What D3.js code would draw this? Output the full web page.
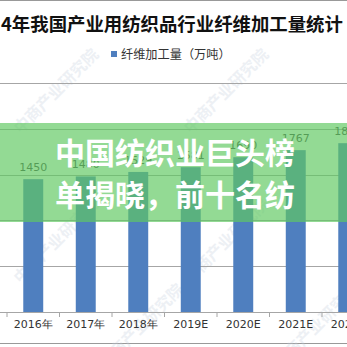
<!DOCTYPE html>
<html>
<head>
<meta charset="utf-8">
<script src="https://cdn.jsdelivr.net/npm/d3@7"></script>
<style>
  body { margin: 0; background: #fff; }
  svg { display: block; }
</style>
</head>
<body>
<div id="chart"></div>
<script>
// data
var years = ["2016年", "2017年", "2018年", "2019E", "2020E", "2021E", "2022E"];
var fiber = [1450, 1480, 1529, 1581, 1690, 1767, 1843];
var yTicks = [0, 500, 1000, 1500, 2000, 2500];

var W = 347, H = 347;

var svg = d3.select("#chart").append("svg")
    .attr("width", W)
    .attr("height", H);

// frame lines
svg.append("line").attr("x1", 0).attr("x2", W).attr("y1", 0.5).attr("y2", 0.5)
    .attr("stroke", "#999");
svg.append("line").attr("x1", 0).attr("x2", W).attr("y1", 343.5).attr("y2", 343.5)
    .attr("stroke", "#999");

// watermarks, faint, under everything
var marks = [[60, 95], [230, 95], [60, 245], [230, 245], [145, 330], [320, 330]];
svg.append("g").selectAll("text")
    .data(marks)
    .enter().append("text")
      .attr("transform", function(d) { return "translate(" + d[0] + "," + d[1] + ") rotate(-45)"; })
      .attr("text-anchor", "middle")
      .attr("font-family", "Noto Sans CJK SC")
      .attr("font-weight", "bold")
      .attr("font-size", 16)
      .attr("fill", "#c5d0de")
      .attr("opacity", 0.3)
      .text("中商产业研究院");

// title (cut off at the left like the picture)
svg.append("text")
    .attr("x", 1)
    .attr("y", 31)
    .attr("font-family", "Noto Sans CJK SC")
    .attr("font-weight", "bold")
    .attr("font-size", 18.4)
    .attr("fill", "#111")
    .text("4年我国产业用纺织品行业纤维加工量统计");

// legend
svg.append("rect").attr("x", 111).attr("y", 51).attr("width", 6).attr("height", 6)
    .attr("fill", "#4f7fbf");
svg.append("text")
    .attr("x", 121)
    .attr("y", 59)
    .attr("font-family", "Noto Sans CJK SC")
    .attr("font-size", 12.2)
    .attr("fill", "#333")
    .text("纤维加工量（万吨）");

var x = d3.scaleBand()
    .domain(years)
    .range([7, 7 + 52.5 * years.length])
    .paddingInner(0.62)
    .paddingOuter(0.31);

var y = d3.scaleLinear()
    .domain([0, 2500])
    .range([312, 83]);

// gridlines
svg.append("g").selectAll("line")
    .data(yTicks.slice(1))
    .enter().append("line")
      .attr("x1", 0).attr("x2", W)
      .attr("y1", function(d) { return Math.round(y(d)) + 0.5; })
      .attr("y2", function(d) { return Math.round(y(d)) + 0.5; })
      .attr("stroke", "#a6a6a6");

// bars
svg.append("g").selectAll("rect")
    .data(fiber)
    .enter().append("rect")
      .attr("x", function(d, i) { return x(years[i]); })
      .attr("y", function(d) { return y(d); })
      .attr("width", x.bandwidth())
      .attr("height", function(d) { return y(0) - y(d); })
      .attr("fill", "#4f7fbf");

// value labels
svg.append("g").selectAll("text")
    .data(fiber)
    .enter().append("text")
      .attr("x", function(d, i) { return x(years[i]) + x.bandwidth() / 2; })
      .attr("y", function(d) { return y(d) - 8; })
      .attr("text-anchor", "middle")
      .attr("font-family", "DejaVu Sans")
      .attr("font-size", 11)
      .attr("fill", "#404040")
      .text(function(d) { return d; });

// x axis
var xAxis = d3.axisBottom(x).tickSize(0).tickPadding(8);
var gx = svg.append("g")
    .attr("transform", "translate(0,312)")
    .call(xAxis);
gx.select(".domain").remove();
gx.append("line").attr("x1", 0).attr("x2", W).attr("y1", 0.5).attr("y2", 0.5)
    .attr("stroke", "#a6a6a6");
gx.selectAll(".sep")
    .data(d3.range(years.length + 1))
    .enter().append("line")
      .attr("class", "sep")
      .attr("x1", function(i) { return 7 + i * x.step(); })
      .attr("x2", function(i) { return 7 + i * x.step(); })
      .attr("y1", 0).attr("y2", 5)
      .attr("stroke", "#a6a6a6");
gx.selectAll(".tick text")
    .attr("font-family", "DejaVu Sans")
    .attr("font-size", 11)
    .attr("fill", "#333");

// green banner overlay
svg.append("rect")
    .attr("x", 0).attr("y", 123)
    .attr("width", W).attr("height", 99)
    .attr("fill", "rgb(96,200,98)")
    .attr("opacity", 0.68);

var lines = ["中国纺织业巨头榜", "单揭晓，前十名纺"];
svg.append("g").selectAll("text")
    .data(lines)
    .enter().append("text")
      .attr("x", 175)
      .attr("y", function(d, i) { return 164 + i * 42; })
      .attr("text-anchor", "middle")
      .attr("font-family", "Noto Sans CJK SC")
      .attr("font-weight", "bold")
      .attr("font-size", 30)
      .attr("fill", "#fff")
      .text(function(d) { return d; });
</script>
</body>
</html>
